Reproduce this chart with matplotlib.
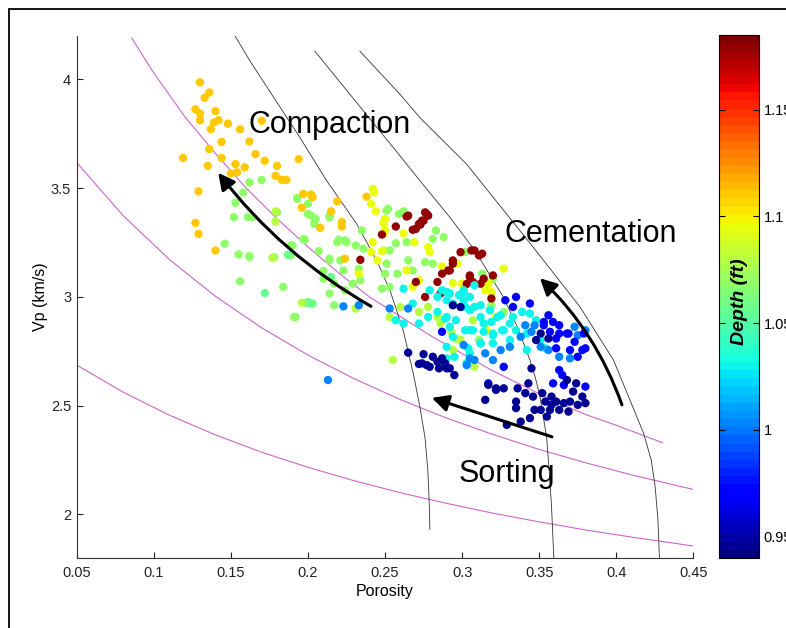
import numpy as np
import matplotlib
matplotlib.use('Agg')
import matplotlib.pyplot as plt
from matplotlib.patches import Rectangle

plt.rcParams['font.family'] = ['Liberation Sans', 'DejaVu Sans']

# ---- model curves (porosity, Vp km/s) ----
m1_por = [0.0857, 0.10, 0.12, 0.14, 0.16, 0.18, 0.20, 0.22, 0.24, 0.26, 0.28, 0.30, 0.32, 0.34, 0.36, 0.38, 0.40, 0.43]
m1_vp = [4.19, 4.03, 3.83, 3.66, 3.50, 3.36, 3.23, 3.11, 3.00, 2.91, 2.82, 2.74, 2.66, 2.59, 2.52, 2.46, 2.41, 2.33]
m2_por = [0.05, 0.08, 0.11, 0.14, 0.17, 0.20, 0.23, 0.26, 0.29, 0.32, 0.35, 0.38, 0.41, 0.45]
m2_vp = [3.618, 3.375, 3.173, 3.003, 2.858, 2.733, 2.624, 2.528, 2.443, 2.368, 2.299, 2.238, 2.182, 2.115]
m3_por = [0.05, 0.08, 0.11, 0.14, 0.17, 0.20, 0.23, 0.26, 0.29, 0.32, 0.35, 0.38, 0.41, 0.45]
m3_vp = [2.687, 2.563, 2.457, 2.366, 2.286, 2.217, 2.155, 2.100, 2.051, 2.006, 1.966, 1.929, 1.896, 1.855]

k1_por = [0.1527, 0.1624, 0.1948, 0.2121, 0.2316, 0.2446, 0.2532, 0.2618, 0.2683, 0.2726, 0.2760, 0.2778, 0.2787, 0.2791]
k1_vp = [4.20, 4.085, 3.733, 3.535, 3.336, 3.168, 3.031, 2.847, 2.649, 2.496, 2.35, 2.20, 2.05, 1.931]
k2_por = [0.2045, 0.2597, 0.2726, 0.2921, 0.3083, 0.3267, 0.3360, 0.3440, 0.3475, 0.3505, 0.3548, 0.3565, 0.3580, 0.3595]
k2_vp = [4.13, 3.649, 3.535, 3.366, 3.214, 3.0, 2.86, 2.71, 2.63, 2.542, 2.359, 2.20, 2.038, 1.80]
k3_por = [0.2337, 0.2597, 0.2726, 0.3029, 0.3461, 0.3764, 0.3982, 0.4177, 0.4227, 0.4252, 0.4270, 0.4280]
k3_vp = [4.13, 3.932, 3.825, 3.611, 3.229, 2.955, 2.71, 2.374, 2.25, 2.13, 1.98, 1.80]

# ---- data points grouped by depth colour (porosity, Vp) ----
orange = np.array([
    (0.130, 3.987), (0.136, 3.940), (0.133, 3.916), (0.127, 3.863), (0.130, 3.843), (0.130, 3.813),
    (0.140, 3.855), (0.139, 3.802), (0.142, 3.813), (0.137, 3.771), (0.148, 3.797), (0.156, 3.771),
    (0.170, 3.810), (0.162, 3.715), (0.144, 3.713), (0.136, 3.680), (0.144, 3.639), (0.119, 3.639),
    (0.135, 3.603), (0.166, 3.657), (0.172, 3.626), (0.153, 3.611), (0.159, 3.596), (0.150, 3.568),
    (0.154, 3.573), (0.180, 3.603), (0.179, 3.557), (0.183, 3.539), (0.186, 3.538), (0.194, 3.634),
    (0.129, 3.486), (0.127, 3.341), (0.129, 3.290), (0.140, 3.214), (0.197, 3.474), (0.202, 3.471),
    (0.203, 3.458), (0.196, 3.410), (0.208, 3.318), (0.215, 3.394), (0.219, 3.440), (0.222, 3.344),
    (0.222, 3.324), (0.238, 3.461), (0.224, 3.176)])
green = np.array([
    (0.162, 3.527), (0.170, 3.538), (0.158, 3.480), (0.153, 3.433), (0.152, 3.367), (0.161, 3.367),
    (0.164, 3.367), (0.193, 3.455), (0.146, 3.245), (0.155, 3.196), (0.162, 3.188), (0.190, 3.237),
    (0.156, 3.072), (0.184, 3.046), (0.191, 2.908), (0.193, 3.451), (0.200, 3.382), (0.205, 3.359),
    (0.204, 3.336), (0.214, 3.374), (0.220, 3.263), (0.225, 3.252), (0.231, 3.237), (0.236, 3.222),
    (0.251, 3.397), (0.259, 3.382), (0.262, 3.394), (0.264, 3.252), (0.257, 3.247), (0.253, 3.214),
    (0.207, 3.211), (0.214, 3.176), (0.221, 3.168), (0.233, 3.130), (0.251, 3.153), (0.265, 3.168),
    (0.276, 3.160), (0.281, 3.153), (0.283, 3.306), (0.288, 3.275), (0.281, 3.267), (0.268, 3.122),
    (0.258, 3.107), (0.250, 3.107), (0.234, 3.077), (0.224, 3.031), (0.217, 3.061), (0.210, 3.084),
    (0.210, 3.119), (0.214, 3.016), (0.200, 2.977), (0.217, 2.962), (0.248, 3.038), (0.253, 3.046),
    (0.192, 2.908), (0.197, 3.267), (0.189, 3.237), (0.189, 3.191), (0.200, 3.428), (0.202, 3.374),
    (0.214, 3.366), (0.235, 3.306), (0.219, 3.252), (0.224, 3.260), (0.214, 3.168), (0.223, 3.122),
    (0.229, 3.061), (0.252, 3.405), (0.262, 3.389), (0.178, 3.183), (0.162, 3.183), (0.198, 3.263),
    (0.180, 3.389), (0.313, 3.107), (0.320, 3.084), (0.302, 3.206), (0.319, 2.962), (0.327, 2.931),
    (0.311, 2.802)])
teal = np.array([
    (0.187, 3.194), (0.172, 3.018), (0.202, 2.970), (0.199, 2.973), (0.203, 2.970), (0.215, 3.092)])
yellowgreen = np.array([
    (0.179, 3.394), (0.179, 3.347), (0.177, 3.180), (0.231, 2.947), (0.260, 2.954), (0.253, 2.908),
    (0.272, 2.931), (0.278, 2.954), (0.255, 2.710), (0.284, 2.908), (0.286, 2.878), (0.293, 2.840),
    (0.296, 2.809), (0.294, 2.756), (0.299, 2.802), (0.307, 2.893), (0.308, 2.679), (0.196, 2.973),
    (0.249, 3.214)])
yellow = np.array([
    (0.242, 3.497), (0.243, 3.481), (0.241, 3.428), (0.244, 3.394), (0.250, 3.359), (0.249, 3.339),
    (0.249, 3.290), (0.242, 3.252), (0.262, 3.293), (0.269, 3.252), (0.278, 3.229), (0.279, 3.206),
    (0.287, 3.141), (0.294, 3.064), (0.297, 3.153), (0.272, 3.077), (0.248, 3.211), (0.241, 3.206),
    (0.233, 3.107), (0.327, 3.130), (0.317, 3.061), (0.315, 3.031), (0.319, 3.023), (0.322, 2.908),
    (0.316, 2.847), (0.300, 3.061), (0.245, 3.168), (0.264, 3.122), (0.268, 3.046), (0.250, 3.306)])
darkred = np.array([
    (0.277, 3.382), (0.275, 3.351), (0.273, 3.333), (0.270, 3.313), (0.268, 3.309), (0.257, 3.324),
    (0.264, 3.370), (0.248, 3.287), (0.234, 3.171), (0.284, 3.069), (0.287, 3.107), (0.292, 3.122),
    (0.294, 3.153), (0.299, 3.206), (0.270, 3.069), (0.276, 3.000), (0.303, 3.060), (0.305, 3.099),
    (0.307, 3.069), (0.312, 3.061), (0.311, 3.191), (0.308, 3.214), (0.319, 2.993), (0.314, 3.084),
    (0.320, 3.099), (0.276, 3.389), (0.278, 3.374), (0.274, 3.351), (0.272, 3.336), (0.265, 3.374),
    (0.306, 3.214), (0.313, 3.199), (0.294, 3.168), (0.305, 3.092), (0.291, 3.122), (0.286, 3.016)])
cyan = np.array([
    (0.262, 3.038), (0.257, 2.893), (0.262, 2.878), (0.272, 2.878), (0.279, 3.031), (0.287, 3.031),
    (0.292, 3.016), (0.290, 2.985), (0.298, 3.008), (0.301, 3.031), (0.284, 2.931), (0.278, 2.908),
    (0.289, 2.901), (0.292, 2.863), (0.290, 2.771), (0.295, 2.725), (0.303, 2.695), (0.344, 2.924),
    (0.339, 2.931), (0.333, 2.908), (0.348, 2.893), (0.342, 2.832), (0.335, 2.847), (0.351, 2.802),
    (0.331, 2.802), (0.326, 2.847), (0.320, 2.787), (0.319, 2.885), (0.325, 2.916), (0.312, 2.908),
    (0.308, 2.954), (0.305, 3.000), (0.302, 2.954), (0.301, 3.023), (0.308, 3.054), (0.314, 2.840),
    (0.307, 2.847), (0.302, 2.847), (0.312, 2.787), (0.342, 2.756), (0.354, 2.764), (0.320, 2.824),
    (0.304, 2.764), (0.268, 2.970), (0.284, 3.000), (0.290, 3.023), (0.294, 2.970), (0.301, 2.985),
    (0.305, 2.939), (0.312, 2.962), (0.318, 2.939), (0.323, 2.908), (0.331, 2.878), (0.327, 2.847),
    (0.314, 2.878), (0.305, 2.847), (0.296, 2.893), (0.290, 2.908), (0.294, 2.817), (0.312, 2.787),
    (0.320, 2.832), (0.290, 2.718), (0.305, 2.741)])
lightblue = np.array([
    (0.223, 2.957), (0.233, 2.962), (0.213, 2.618), (0.253, 2.947), (0.265, 2.947), (0.301, 2.779),
    (0.373, 2.863), (0.380, 2.847), (0.375, 2.824), (0.363, 2.725), (0.370, 2.718), (0.356, 2.756),
    (0.351, 2.771), (0.345, 2.840), (0.341, 2.870), (0.347, 2.870), (0.338, 2.817), (0.331, 2.771),
    (0.325, 2.756), (0.320, 2.710), (0.315, 2.741), (0.308, 2.710), (0.305, 2.718), (0.303, 2.687)])
blue = np.array([
    (0.287, 2.840), (0.335, 3.000), (0.344, 2.970), (0.328, 2.985), (0.333, 2.954), (0.356, 2.916),
    (0.359, 2.885), (0.353, 2.885), (0.363, 2.832), (0.357, 2.840), (0.361, 2.809), (0.369, 2.832),
    (0.373, 2.794), (0.378, 2.756), (0.380, 2.764), (0.370, 2.756), (0.361, 2.764), (0.375, 2.725),
    (0.327, 2.679), (0.317, 2.603), (0.366, 2.595), (0.359, 2.603), (0.365, 2.641), (0.363, 2.664),
    (0.380, 2.588), (0.363, 2.870), (0.379, 2.832), (0.353, 2.870), (0.368, 2.832)])
darkblue = np.array([
    (0.294, 2.962), (0.299, 2.954), (0.265, 2.744), (0.275, 2.737), (0.274, 2.695), (0.277, 2.687),
    (0.281, 2.725), (0.284, 2.702), (0.287, 2.718), (0.289, 2.695), (0.279, 2.679), (0.285, 2.672),
    (0.290, 2.672), (0.292, 2.672), (0.295, 2.641), (0.272, 2.692), (0.351, 2.832), (0.356, 2.809),
    (0.348, 2.802), (0.322, 2.573), (0.315, 2.527), (0.336, 2.580), (0.343, 2.603), (0.341, 2.558),
    (0.346, 2.542), (0.352, 2.558), (0.354, 2.519), (0.358, 2.542), (0.361, 2.519), (0.366, 2.512),
    (0.370, 2.519), (0.375, 2.504), (0.380, 2.512), (0.378, 2.542), (0.372, 2.565), (0.368, 2.618),
    (0.374, 2.603), (0.351, 2.481), (0.357, 2.481), (0.363, 2.481), (0.369, 2.473), (0.355, 2.450),
    (0.347, 2.481), (0.345, 2.672), (0.335, 2.519), (0.335, 2.489), (0.344, 2.443), (0.338, 2.427),
    (0.329, 2.412), (0.358, 2.504), (0.327, 2.580), (0.317, 2.596), (0.322, 2.580)])

groups = [green, teal, yellowgreen, orange, yellow, darkred, cyan, lightblue, blue, darkblue]
group_depth = [1.069, 1.058, 1.080, 1.110, 1.095, 1.180, 1.030, 1.005, 0.970, 0.945]

x_ticks = [0.05, 0.1, 0.15, 0.2, 0.25, 0.3, 0.35, 0.4, 0.45]
y_ticks = [2, 2.5, 3, 3.5, 4]
cb_ticks = [0.95, 1.0, 1.05, 1.1, 1.15]

fig = plt.figure(figsize=(7.86, 6.28), dpi=100)
ax = fig.add_axes([0.0976, 0.1115, 0.7845, 0.8312])

curve_col = '#cc66cc'
ax.plot(m1_por, m1_vp, color=curve_col, lw=0.8)
ax.plot(m2_por, m2_vp, color=curve_col, lw=0.8)
ax.plot(m3_por, m3_vp, color=curve_col, lw=0.8)
for xs, ys in [(k1_por, k1_vp), (k2_por, k2_vp), (k3_por, k3_vp)]:
    ax.plot(xs, ys, color='#333333', lw=0.6)

cmap = plt.get_cmap('jet', 64)
por_all = np.concatenate([g[:, 0] for g in groups])
vp_all = np.concatenate([g[:, 1] for g in groups])
dep_all = np.concatenate([np.full(len(g), d) for g, d in zip(groups, group_depth)])
sc = ax.scatter(por_all, vp_all, c=dep_all, cmap=cmap, vmin=0.94, vmax=1.185,
                s=36, linewidths=0, zorder=3)

arrow_kw = dict(arrowstyle='-|>,head_length=0.55,head_width=0.28', color='k',
                lw=2.2, mutation_scale=18, shrinkA=0, shrinkB=0)
ax.annotate('', xy=(0.1418, 3.571), xytext=(0.2409, 2.957),
            arrowprops=dict(connectionstyle='arc3,rad=-0.1', **arrow_kw), zorder=5)
ax.annotate('', xy=(0.3505, 3.086), xytext=(0.4037, 2.504),
            arrowprops=dict(connectionstyle='arc3,rad=0.12', **arrow_kw), zorder=5)
ax.annotate('', xy=(0.2804, 2.536), xytext=(0.3583, 2.357),
            arrowprops=dict(connectionstyle='arc3,rad=0', **arrow_kw), zorder=5)

ax.text(0.1613, 3.754, 'Compaction', fontsize=22, ha='left', va='baseline', zorder=6)
ax.text(0.3278, 3.252, 'Cementation', fontsize=22, ha='left', va='baseline', zorder=6)
ax.text(0.2975, 2.148, 'Sorting', fontsize=22, ha='left', va='baseline', zorder=6)

ax.set_xlim(0.05, 0.45)
ax.set_ylim(1.8, 4.2)
ax.set_xticks(x_ticks)
ax.set_xticklabels(['0.05', '0.1', '0.15', '0.2', '0.25', '0.3', '0.35', '0.4', '0.45'])
ax.set_yticks(y_ticks)
ax.set_yticklabels(['2', '2.5', '3', '3.5', '4'])
ax.tick_params(direction='in', length=4, width=0.8, labelsize=10.5, colors='#222222')
ax.tick_params(axis='x', pad=6)
ax.tick_params(axis='y', pad=4)
ax.spines['top'].set_visible(False)
ax.spines['right'].set_visible(False)
for side in ['left', 'bottom']:
    ax.spines[side].set_color('#333333')
    ax.spines[side].set_linewidth(0.8)
ax.set_xlabel('Porosity', fontsize=11.5, labelpad=3)
ax.set_ylabel('Vp (km/s)', fontsize=11.5, labelpad=2)

cax = fig.add_axes([0.9151, 0.1115, 0.0509, 0.8328])
cb = fig.colorbar(sc, cax=cax)
cb.set_ticks(cb_ticks)
cb.set_ticklabels(['0.95', '1', '1.05', '1.1', '1.15'])
cax.tick_params(direction='in', length=4, width=0.8, left=True, right=True, labelsize=10.5, pad=3)
cb.outline.set_linewidth(0.8)
cax.text(0.5, 0.49, 'Depth (ft)', transform=cax.transAxes, rotation=90, fontsize=14,
         fontweight='bold', fontstyle='italic', ha='center', va='center')

fig.patches.append(Rectangle((8.5 / 786, -0.05), 2.0, (628 - 9) / 628 + 0.05,
                             transform=fig.transFigure, fill=False, lw=1.3, ec='k'))

fig.savefig('out.png', dpi=100)
